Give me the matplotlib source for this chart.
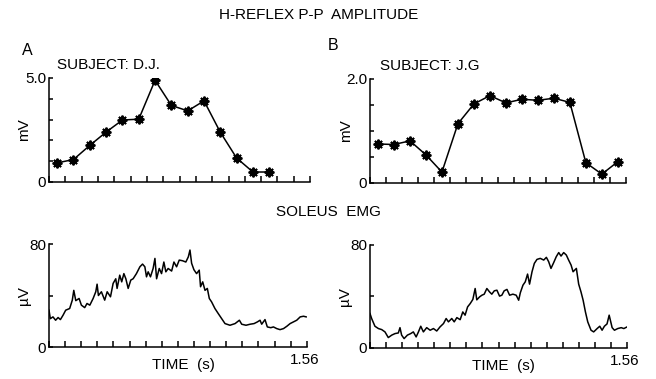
import matplotlib
matplotlib.use("Agg")
import matplotlib.pyplot as plt
import numpy as np

plt.rcParams['font.family'] = ['Liberation Sans', 'DejaVu Sans']
plt.rcParams['font.size'] = 11

T_END = 1.56
N_BINS = 16

# peak-to-peak H-reflex amplitude per stimulus bin (mV)
hr_dj = [0.92, 1.08, 1.76, 2.40, 2.98, 3.02, 4.89, 3.68, 3.42, 3.90, 2.39, 1.15, 0.48, 0.48]
hr_jg = [0.75, 0.74, 0.81, 0.54, 0.21, 1.14, 1.52, 1.68, 1.54, 1.61, 1.59, 1.63, 1.55, 0.39, 0.17, 0.41]

# rectified, averaged soleus EMG (uV)
emg_dj_t = [0.000, 0.008, 0.024, 0.040, 0.055, 0.069, 0.085, 0.101, 0.125, 0.141,
            0.150, 0.162, 0.182, 0.196, 0.216, 0.230, 0.247, 0.267, 0.283, 0.291,
            0.299, 0.317, 0.337, 0.352, 0.372, 0.388, 0.404, 0.412, 0.428, 0.440,
            0.453, 0.465, 0.479, 0.495, 0.509, 0.529, 0.550, 0.566, 0.580, 0.590,
            0.600, 0.614, 0.630, 0.641, 0.651, 0.667, 0.681, 0.695, 0.707, 0.721,
            0.742, 0.756, 0.772, 0.788, 0.808, 0.828, 0.843, 0.853, 0.863, 0.877,
            0.893, 0.909, 0.917, 0.930, 0.944, 0.958, 0.970, 0.984, 1.004, 1.024,
            1.045, 1.065, 1.095, 1.126, 1.152, 1.166, 1.192, 1.217, 1.241, 1.261,
            1.277, 1.287, 1.307, 1.321, 1.342, 1.358, 1.378, 1.398, 1.419, 1.439,
            1.459, 1.479, 1.499, 1.520, 1.540, 1.556]
emg_dj = [28.6, 22.0, 23.4, 20.8, 22.9, 21.3, 24.7, 28.6, 29.9, 36.4,
          44.0, 36.0, 37.7, 32.5, 30.6, 33.8, 32.5, 37.7, 42.9, 48.8,
          40.0, 42.9, 36.4, 42.9, 39.0, 49.4, 53.0, 45.5, 55.8, 50.6,
          57.0, 53.0, 45.5, 52.0, 53.0, 57.0, 62.3, 64.4, 62.3, 54.5,
          58.4, 54.5, 61.0, 68.8, 53.0, 61.0, 57.0, 66.0, 58.4, 61.0,
          59.0, 66.0, 62.3, 67.5, 67.0, 66.0, 70.0, 75.3, 65.0, 60.0,
          57.0, 59.7, 46.8, 50.6, 44.0, 45.5, 37.7, 35.0, 29.9, 26.0,
          22.0, 18.2, 16.9, 18.2, 20.8, 17.7, 16.9, 17.7, 18.2, 19.5,
          20.8, 17.7, 21.3, 15.6, 15.0, 15.6, 14.3, 13.5, 14.3, 16.1,
          18.2, 19.5, 20.8, 23.4, 23.9, 23.4]

emg_jg_t = [0.000, 0.010, 0.030, 0.051, 0.071, 0.091, 0.111, 0.132, 0.152, 0.172,
            0.182, 0.192, 0.207, 0.227, 0.247, 0.263, 0.280, 0.294, 0.308, 0.324,
            0.344, 0.365, 0.385, 0.405, 0.425, 0.446, 0.462, 0.476, 0.496, 0.511,
            0.527, 0.547, 0.563, 0.577, 0.592, 0.608, 0.624, 0.638, 0.648, 0.665,
            0.679, 0.693, 0.709, 0.725, 0.739, 0.754, 0.770, 0.786, 0.800, 0.814,
            0.831, 0.847, 0.867, 0.887, 0.902, 0.912, 0.928, 0.942, 0.956, 0.968,
            0.983, 0.997, 1.013, 1.033, 1.054, 1.070, 1.084, 1.098, 1.114, 1.130,
            1.145, 1.159, 1.175, 1.191, 1.205, 1.220, 1.232, 1.252, 1.266, 1.280,
            1.293, 1.307, 1.321, 1.341, 1.357, 1.378, 1.394, 1.408, 1.422, 1.438,
            1.451, 1.469, 1.483, 1.503, 1.524, 1.540, 1.560]
emg_jg = [26.8, 22.9, 16.9, 15.1, 14.3, 12.5, 8.1, 10.0, 11.2, 11.7,
          15.8, 10.0, 7.3, 10.0, 11.2, 12.5, 8.6, 12.5, 16.9, 12.5,
          15.8, 13.8, 15.1, 13.2, 16.4, 19.0, 22.9, 20.3, 22.9, 20.3,
          23.6, 22.0, 28.0, 25.5, 31.9, 34.5, 37.7, 46.2, 37.4, 39.7,
          41.0, 41.8, 46.2, 43.6, 41.8, 44.4, 44.9, 40.3, 41.0, 44.4,
          45.5, 41.0, 41.8, 41.0, 37.1, 42.9, 48.8, 51.4, 57.4, 49.6,
          59.2, 65.7, 68.8, 69.6, 68.3, 70.4, 67.0, 61.8, 66.2, 70.9,
          74.1, 71.4, 74.1, 72.2, 68.3, 64.4, 59.2, 61.8, 49.6, 43.6,
          37.1, 28.0, 20.3, 13.8, 12.5, 15.1, 16.9, 13.8, 16.9, 18.7,
          25.5, 15.8, 13.8, 15.1, 15.8, 15.1, 16.4]

LW = 1.1
bin_w = T_END / N_BINS
ticks_t = np.arange(N_BINS + 1) * bin_w


def style_axes(ax, ymax, yticks, ylabel, ymax_label):
    for side in ('top', 'right'):
        ax.spines[side].set_visible(False)
    for side in ('left', 'bottom'):
        ax.spines[side].set_linewidth(LW)
    ax.set_xlim(0, T_END)
    ax.set_ylim(0, ymax)
    ax.set_xticks(ticks_t)
    ax.set_yticks(yticks)
    ylabels = [''] * len(yticks)
    ylabels[0] = '0'
    ylabels[-1] = ymax_label
    ax.set_yticklabels(ylabels)
    ax.tick_params(axis='x', direction='in', length=4, width=LW, labelbottom=False)
    ax.tick_params(axis='y', direction='in', length=3, width=LW, pad=2)
    ax.set_ylabel(ylabel)
    ax.yaxis.set_label_coords(-0.068, 0.5)


def hreflex(ax, values, ymax, yticks, ymax_label):
    x = (np.arange(len(values)) + 0.5) * bin_w
    ax.plot(x, values, color='black', lw=LW, zorder=2)
    ax.plot(x, values, ls='none', marker=(8, 2, 0), ms=7, mew=1.4,
            color='black', zorder=3)
    ax.plot(x, values, ls='none', marker='o', ms=3, color='black', zorder=3)
    style_axes(ax, ymax, yticks, 'mV', ymax_label)


def emg(ax, t, values):
    ax.plot(t, values, color='black', lw=LW)
    style_axes(ax, 80, [0, 40, 80], 'µV', '80')
    ax.text(0.99, -0.06, '1.56', transform=ax.transAxes, ha='center', va='top')
    ax.text(0.52, -0.11, 'TIME  (s)', transform=ax.transAxes, ha='center', va='top')


fig = plt.figure(figsize=(6.56, 3.79), dpi=100)

ax_a = fig.add_axes([0.0747, 0.5198, 0.398, 0.2744])
ax_b = fig.add_axes([0.564, 0.5172, 0.390, 0.2744])
ax_c = fig.add_axes([0.0747, 0.0844, 0.393, 0.2718])
ax_d = fig.add_axes([0.564, 0.0818, 0.392, 0.2718])

hreflex(ax_a, hr_dj, 5.0, [0, 1, 2, 3, 4, 5], '5.0')
hreflex(ax_b, hr_jg, 2.0, [0, 0.5, 1.0, 1.5, 2.0], '2.0')
emg(ax_c, emg_dj_t, emg_dj)
emg(ax_d, emg_jg_t, emg_jg)

ax_a.text(0.03, 1.06, 'SUBJECT: D.J.', transform=ax_a.transAxes, ha='left', va='bottom')
ax_b.text(0.04, 1.06, 'SUBJECT: J.G', transform=ax_b.transAxes, ha='left', va='bottom')

fig.text(0.485, 0.96, 'H-REFLEX P-P  AMPLITUDE', ha='center', va='center')
fig.text(0.50, 0.44, 'SOLEUS  EMG', ha='center', va='center')
fig.text(0.041, 0.868, 'A', ha='center', va='center', fontsize=11.5)
fig.text(0.508, 0.880, 'B', ha='center', va='center', fontsize=11.5)

fig.savefig('out.png', dpi=100)
